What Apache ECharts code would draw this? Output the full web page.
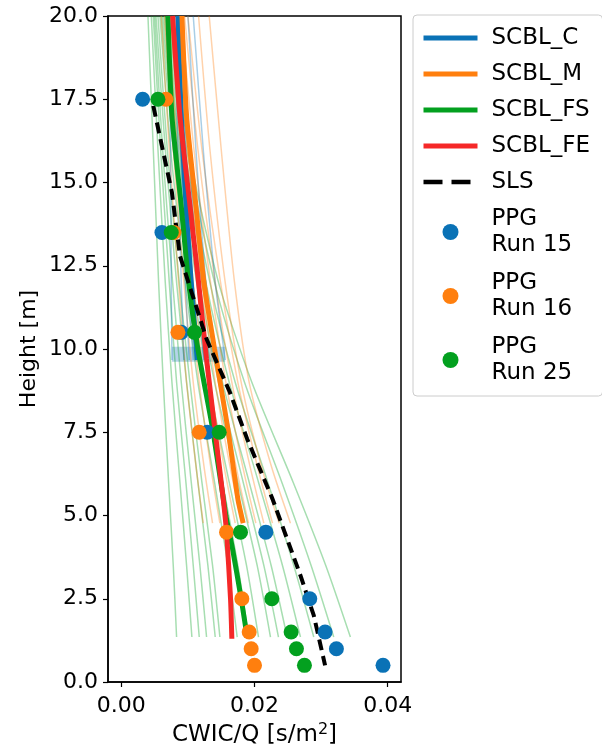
<!DOCTYPE html>
<html>
<head>
<meta charset="utf-8">
<script src="https://cdn.jsdelivr.net/npm/echarts@6/dist/echarts.min.js"></script>
<style>
  html, body { margin: 0; padding: 0; background: #fff; }
  #chart { width: 602px; height: 752px; }
</style>
</head>
<body>
<div id="chart"></div>
<script>
// Axis ticks
const xTicks = [0, 0.02, 0.04];

// Ensemble members, SCBL_FS (x at each height in fsMemberHeights)
const fsMemberHeights = [20, 16, 12, 9, 6, 3.5, 1.35];
const fsMembers = [
  [0.0040, 0.0048, 0.0056, 0.0063, 0.0071, 0.0078, 0.0083],
  [0.0045, 0.0055, 0.0066, 0.0076, 0.0088, 0.0098, 0.0106],
  [0.0048, 0.0059, 0.0072, 0.0083, 0.0097, 0.0108, 0.0117],
  [0.0050, 0.0062, 0.0077, 0.0090, 0.0105, 0.0118, 0.0128],
  [0.0052, 0.0066, 0.0083, 0.0098, 0.0115, 0.0130, 0.0141],
  [0.0055, 0.0069, 0.0087, 0.0103, 0.0121, 0.0137, 0.0148],
  [0.0058, 0.0074, 0.0096, 0.0115, 0.0140, 0.0160, 0.0174],
  [0.0060, 0.0078, 0.0102, 0.0124, 0.0152, 0.0175, 0.0191],
  [0.0062, 0.0081, 0.0107, 0.0131, 0.0162, 0.0188, 0.0206],
  [0.0064, 0.0085, 0.0113, 0.0140, 0.0175, 0.0204, 0.0224],
  [0.0066, 0.0087, 0.0117, 0.0146, 0.0183, 0.0214, 0.0236],
  [0.0067, 0.0089, 0.0121, 0.0152, 0.0192, 0.0225, 0.0249],
  [0.0068, 0.0092, 0.0127, 0.0162, 0.0206, 0.0242, 0.0269],
  [0.0070, 0.0095, 0.0133, 0.0171, 0.0220, 0.0259, 0.0289],
  [0.0072, 0.0098, 0.0140, 0.0185, 0.0241, 0.0285, 0.0319],
  [0.0074, 0.0101, 0.0146, 0.0196, 0.0258, 0.0307, 0.0344]
];

// Ensemble members, SCBL_M
const mMemberHeights = [20, 16, 12, 9, 6.5, 4.77];
const mMembers = [
  [0.0060, 0.0072, 0.0086, 0.0098, 0.0112, 0.0123],
  [0.0065, 0.0078, 0.0094, 0.0108, 0.0124, 0.0137],
  [0.0070, 0.0084, 0.0101, 0.0117, 0.0134, 0.0148],
  [0.0074, 0.0089, 0.0108, 0.0125, 0.0144, 0.0160],
  [0.0078, 0.0094, 0.0114, 0.0133, 0.0154, 0.0171],
  [0.0082, 0.0099, 0.0121, 0.0141, 0.0163, 0.0181],
  [0.0086, 0.0104, 0.0127, 0.0149, 0.0172, 0.0191],
  [0.0090, 0.0109, 0.0134, 0.0157, 0.0182, 0.0202],
  [0.0095, 0.0115, 0.0141, 0.0166, 0.0193, 0.0214],
  [0.0100, 0.0121, 0.0149, 0.0175, 0.0204, 0.0227],
  [0.0116, 0.0133, 0.0156, 0.0180, 0.0210, 0.0237],
  [0.0132, 0.0150, 0.0170, 0.0192, 0.0225, 0.0254]
];

// Ensemble members, SCBL_C
const cMemberHeights = [20, 16, 12, 9.67];
const cMembers = [
  [0.0072, 0.0074, 0.0075, 0.0076],
  [0.0080, 0.0085, 0.0090, 0.0094],
  [0.0083, 0.0089, 0.0096, 0.0102],
  [0.0086, 0.0093, 0.0101, 0.0108],
  [0.0089, 0.0097, 0.0107, 0.0115],
  [0.0093, 0.0102, 0.0114, 0.0124],
  [0.0100, 0.0112, 0.0127, 0.0140],
  [0.0108, 0.0123, 0.0141, 0.0156]
];
// Spread of SCBL_C members at its lowest level: [xMin, xMax, hLow, hHigh]
const cSpread = [0.0076, 0.0156, 9.62, 10.07];

// Ensemble means
const cHeights = [20, 17, 14, 12, 9.67];
const cX = [0.0085, 0.0090, 0.0098, 0.0105, 0.0114];
const mHeights = [20, 17, 14.5, 12, 10, 7.6, 5.5, 4.77];
const mX = [0.0091, 0.0098, 0.0111, 0.0124, 0.0140, 0.0160, 0.0175, 0.0183];
const fsHeights = [20, 17, 14.5, 12, 10, 7.5, 5, 4, 2.5, 1.35];
const fsX = [0.0070, 0.0076, 0.0089, 0.0101, 0.0115, 0.0138, 0.0157, 0.0167, 0.0180, 0.0189];
const feHeights = [20, 17, 14.5, 12, 9.7, 7.5, 5.5, 4.5, 2.5, 1.3];
const feX = [0.0077, 0.0088, 0.0102, 0.0116, 0.0128, 0.0141, 0.0153, 0.0158, 0.0164, 0.0166];

// SLS profile
const slsHeights = [17.3, 14.7, 12.8, 10.3, 8.7, 7.3, 5.5, 3.2, 2.0, 0.5];
const slsX = [0.0048, 0.0076, 0.0088, 0.0128, 0.0163, 0.0189, 0.0227, 0.0269, 0.0289, 0.0306];

// PPG measurements
const ppgHeights = [17.5, 13.5, 10.5, 7.5, 4.5, 2.5, 1.5, 1.0, 0.5];
const run15 = [0.0032, 0.0061, 0.0090, 0.0129, 0.0217, 0.0283, 0.0306, 0.0323, 0.0393];
const run16 = [0.0067, 0.0079, 0.0085, 0.0117, 0.0158, 0.0181, 0.0192, 0.0195, 0.0200];
const run25 = [0.0055, 0.0075, 0.0110, 0.0147, 0.0179, 0.0226, 0.0255, 0.0263, 0.0275];

const C_BLUE = '#0a72b6';
const C_ORANGE = '#ff7f0e';
const C_GREEN = '#03a01f';
const C_RED = '#f52828';
const FONT = 'DejaVu Sans';

const pairs = (xs, hs) => xs.map((x, i) => [x, hs[i]]);

function memberSeries(members, hs, color) {
  return members.map(xs => ({
    type: 'line',
    data: pairs(xs, hs),
    showSymbol: false,
    symbol: 'none',
    smooth: 0.25,
    silent: true,
    z: 1,
    lineStyle: { color: color, width: 1.5, opacity: 0.35 }
  }));
}

function meanSeries(name, xs, hs, color) {
  return {
    name: name,
    type: 'line',
    data: pairs(xs, hs),
    symbol: 'none',
    smooth: 0.2,
    z: 3,
    lineStyle: { color: color, width: 5 },
    itemStyle: { color: color }
  };
}

function ppgSeries(name, xs, color, z) {
  return {
    name: name,
    type: 'scatter',
    data: pairs(xs, ppgHeights),
    symbol: 'circle',
    symbolSize: 15,
    z: z,
    itemStyle: { color: color, opacity: 1 }
  };
}

const series = [].concat(
  memberSeries(fsMembers, fsMemberHeights, C_GREEN),
  memberSeries(mMembers, mMemberHeights, C_ORANGE),
  memberSeries(cMembers, cMemberHeights, C_BLUE),
  [{
    type: 'line',
    data: [],
    silent: true,
    z: 1,
    markArea: {
      silent: true,
      itemStyle: { color: C_BLUE, opacity: 0.3 },
      data: [[{ coord: [cSpread[0], cSpread[3]] }, { coord: [cSpread[1], cSpread[2]] }]]
    }
  }],
  [
    meanSeries('SCBL_C', cX, cHeights, C_BLUE),
    meanSeries('SCBL_M', mX, mHeights, C_ORANGE),
    meanSeries('SCBL_FS', fsX, fsHeights, C_GREEN),
    meanSeries('SCBL_FE', feX, feHeights, C_RED),
    {
      name: 'SLS',
      type: 'line',
      data: pairs(slsX, slsHeights),
      symbol: 'none',
      z: 4,
      lineStyle: { color: '#000', width: 4, type: [11, 6] },
      itemStyle: { color: '#000' }
    },
    ppgSeries('PPG\nRun 15', run15, C_BLUE, 5),
    ppgSeries('PPG\nRun 16', run16, C_ORANGE, 6),
    ppgSeries('PPG\nRun 25', run25, C_GREEN, 7)
  ]
);

// Legend entries: plain line swatches for the profiles, dots for the PPG runs
const lineEntry = (name, extra) => ({
  name: name,
  itemStyle: { opacity: 0 },
  lineStyle: Object.assign({ width: 5 }, extra || {})
});
const dotEntry = name => ({
  name: name,
  textStyle: { padding: [1, 0, 1, 9] }
});

const chart = echarts.init(document.getElementById('chart'), null, { renderer: 'canvas' });
chart.setOption({
  animation: false,
  backgroundColor: '#fff',
  textStyle: { fontFamily: FONT },
  grid: {
    left: 108, right: 201, top: 16, bottom: 70,
    show: true, borderColor: '#000', borderWidth: 1.5, backgroundColor: 'transparent'
  },
  legend: {
    orient: 'vertical',
    left: 413,
    top: 15,
    padding: [10, 8, 9, 8],
    itemWidth: 54,
    itemHeight: 16,
    itemGap: 10,
    borderColor: '#cccccc',
    borderWidth: 1,
    borderRadius: 4,
    backgroundColor: '#fff',
    data: [
      lineEntry('SCBL_C'),
      lineEntry('SCBL_M'),
      lineEntry('SCBL_FS'),
      lineEntry('SCBL_FE'),
      lineEntry('SLS', { width: 4.5, type: [19, 9] }),
      dotEntry('PPG\nRun 15'),
      dotEntry('PPG\nRun 16'),
      dotEntry('PPG\nRun 25')
    ],
    textStyle: {
      fontFamily: FONT, fontSize: 23, color: '#000', lineHeight: 26,
      padding: [0, 0, 0, 9], width: 103
    }
  },
  xAxis: {
    type: 'value',
    min: -0.002,
    max: 0.042,
    name: 'CWIC/Q [s/m{sup|2}]',
    nameLocation: 'middle',
    nameGap: 40,
    nameTextStyle: {
      fontFamily: FONT, fontSize: 23, color: '#000',
      rich: { sup: { fontFamily: FONT, fontSize: 16, color: '#000', verticalAlign: 'top', padding: [0, 0, 10, 0] } }
    },
    splitLine: { show: false },
    axisLine: { show: true, onZero: false, lineStyle: { color: '#000', width: 1.5 } },
    axisTick: { show: true, length: 5, customValues: xTicks, lineStyle: { color: '#000', width: 1.2 } },
    axisLabel: {
      customValues: xTicks, margin: 13, fontFamily: FONT, fontSize: 22, color: '#000',
      formatter: v => v.toFixed(2)
    }
  },
  yAxis: {
    type: 'value',
    min: 0,
    max: 20,
    interval: 2.5,
    name: 'Height [m]',
    nameLocation: 'middle',
    nameGap: 68,
    nameTextStyle: { fontFamily: FONT, fontSize: 22, color: '#000' },
    splitLine: { show: false },
    axisLine: { show: true, onZero: false, lineStyle: { color: '#000', width: 1.5 } },
    axisTick: { show: true, length: 5, lineStyle: { color: '#000', width: 1.2 } },
    axisLabel: {
      margin: 10, fontFamily: FONT, fontSize: 22, color: '#000',
      formatter: v => v.toFixed(1)
    }
  },
  series: series
});
</script>
</body>
</html>
